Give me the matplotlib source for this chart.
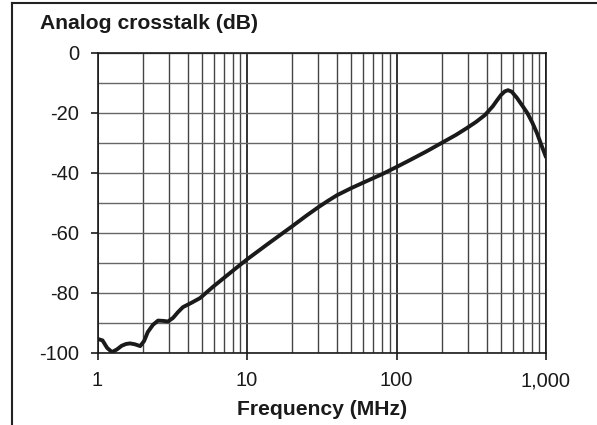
import matplotlib
matplotlib.use("Agg")
from matplotlib import pyplot as plt
from matplotlib.lines import Line2D
from matplotlib.ticker import FixedLocator, NullFormatter
import numpy as np

plt.rcParams['font.family'] = ['Liberation Sans', 'DejaVu Sans']

# values
freq_mhz = [1.0, 1.08, 1.16, 1.25, 1.35, 1.45, 1.55, 1.65, 1.78, 1.93, 2.05, 2.17,
            2.35, 2.54, 2.75, 2.96, 3.2, 3.45, 3.73, 4.2, 4.85, 5.9, 7.0, 8.5,
            10, 14, 20, 25, 30, 35, 40, 50, 60, 80, 100, 123, 160, 200, 250, 296, 340,
            390, 440, 470, 500, 530, 557, 590, 640, 700, 750, 810, 870, 930, 1000]
crosstalk_db = [-95.3, -95.8, -98.3, -99.7, -98.8, -97.6, -97.0, -96.8, -97.1, -97.7, -96.0, -93.0,
                -90.6, -89.2, -89.3, -89.5, -88.3, -86.4, -84.7, -83.4, -81.7, -78.0, -75.0, -71.6,
                -68.8, -63.4, -57.8, -54.2, -51.4, -49.2, -47.4, -45.0, -43.2, -40.4, -38.0, -35.7,
                -32.7, -30.0, -27.3, -25.0, -23.0,
                -20.7, -17.8, -15.8, -14.0, -12.8, -12.4, -12.9, -15.0, -17.8, -20.0, -23.2, -26.7, -30.6, -34.7]

x_ticks = [1, 10, 100, 1000]
x_tick_labels = ['1', '10', '100', '1,000']
y_ticks = [0, -20, -40, -60, -80, -100]
y_tick_labels = ['0', '-20', '-40', '-60', '-80', '-100']

fig = plt.figure(figsize=(5.97, 4.25), dpi=100)
ax = fig.add_axes([97.5 / 597, 72 / 425, 448.5 / 597, 300 / 425])

ax.plot(freq_mhz, crosstalk_db, color='#1a1a1a', lw=2.8, solid_capstyle='round',
        solid_joinstyle='round', zorder=5)

ax.set_xscale('log')
ax.set_xlim(1, 1000)
ax.set_ylim(-100, 0)

ax.set_xticks(x_ticks)
ax.set_xticklabels(x_tick_labels)
minor_x = [m * 10 ** d for d in range(3) for m in range(2, 10)]
ax.xaxis.set_minor_locator(FixedLocator(minor_x))
ax.xaxis.set_minor_formatter(NullFormatter())
ax.set_yticks(y_ticks)
ax.set_yticklabels(y_tick_labels)
ax.yaxis.set_minor_locator(FixedLocator(list(range(-90, 0, 20))))

ax.tick_params(axis='both', which='major', direction='out', length=5, width=1.2,
               pad=8, labelsize=14.5, colors='#1a1a1a')
ax.tick_params(axis='both', which='minor', length=0)

# grid
ax.grid(True, axis='x', which='major', color='#111111', lw=1.2)
ax.grid(True, axis='x', which='minor', color='#444444', lw=1.0)
ax.grid(True, axis='y', which='both', color='#666666', lw=1.0)
ax.set_axisbelow(True)

for s in ax.spines.values():
    s.set_color('#1a1a1a')
    s.set_linewidth(1.2)

ax.set_xlabel('Frequency (MHz)', fontsize=15.2, fontweight='bold', color='#1a1a1a', labelpad=7)
fig.text(40 / 597, 1 - 29 / 425, 'Analog crosstalk (dB)', fontsize=15.2, fontweight='bold',
         color='#1a1a1a', ha='left', va='baseline')

# outer frame (left and top only)
fig.add_artist(Line2D([12 / 597, 12 / 597], [0, 1 - 3 / 425], transform=fig.transFigure,
                      color='#222222', lw=1.5))
fig.add_artist(Line2D([12 / 597, 1], [1 - 3 / 425, 1 - 3 / 425], transform=fig.transFigure,
                      color='#222222', lw=1.5))

fig.savefig('out.png', dpi=100)
